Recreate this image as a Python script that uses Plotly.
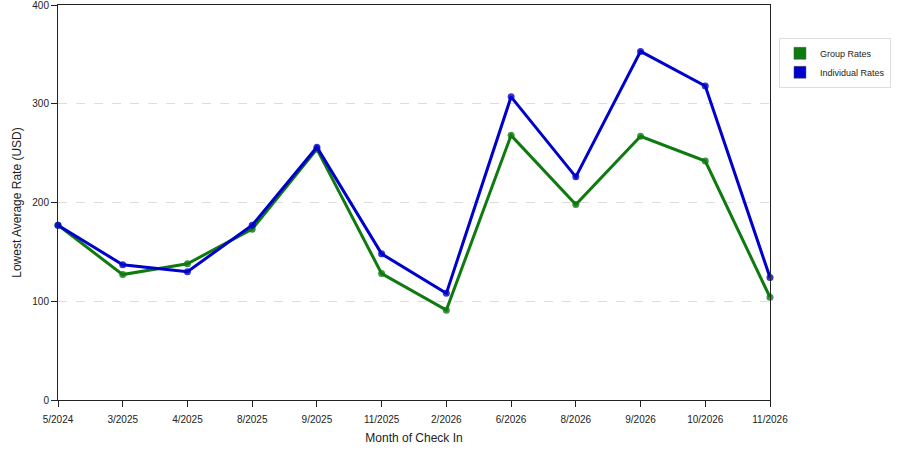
import plotly.graph_objects as go

# months of check in and the lowest average rates
months = ['5/2024', '3/2025', '4/2025', '8/2025', '9/2025', '11/2025',
          '2/2026', '6/2026', '8/2026', '9/2026', '10/2026', '11/2026']
group_rates = [177, 127, 138, 173, 254, 128, 91, 268, 198, 267, 242, 104]
individual_rates = [177, 137, 130, 177, 256, 148, 108, 307, 226, 353, 318, 124]

series = [
    ('Group Rates', group_rates, '#0f7a0f'),
    ('Individual Rates', individual_rates, '#0000cc'),
]

fig = go.Figure()
for name, values, color in series:
    fig.add_trace(go.Scatter(
        x=months, y=values, name=name, mode='lines+markers',
        line=dict(color=color, width=3),
        marker=dict(color=color, size=7, opacity=0.8),
        showlegend=False, cliponaxis=False,
    ))
    # legend entry drawn as a square swatch
    fig.add_trace(go.Scatter(
        x=[None], y=[None], name=name, mode='markers',
        marker=dict(color=color, symbol='square', size=12,
                    line=dict(color='#555555', width=0.5)),
    ))

fig.update_layout(
    width=900, height=450,
    margin=dict(l=58, r=130, t=5, b=50),
    paper_bgcolor='white', plot_bgcolor='white',
    font=dict(family='Liberation Sans, Arial', size=10, color='#222222'),
    legend=dict(x=1.0126, y=0.917, xanchor='left', yanchor='top',
                bordercolor='#dddddd', borderwidth=1, bgcolor='white',
                font=dict(size=9), itemwidth=30, tracegroupgap=2),
    xaxis=dict(
        type='category', range=[0, len(months) - 1], automargin=False,
        title=dict(text='Month of Check In', standoff=9),
        showgrid=False, showline=True, linecolor='#222222', linewidth=1,
        mirror=True, ticks='outside', ticklen=6, tickcolor='#222222',
        ticklabelstandoff=4, zeroline=False,
    ),
    yaxis=dict(
        range=[0, 400], tickvals=[0, 100, 200, 300, 400], automargin=False,
        title=dict(text='Lowest Average Rate (USD)', standoff=8),
        showgrid=True, gridcolor='#dddddd', griddash='dash',
        showline=True, linecolor='#222222', linewidth=1, mirror=True,
        ticks='outside', ticklen=6, tickcolor='#222222', zeroline=False,
        ticklabeloverflow='allow',
    ),
)

# drop the default page margin so the figure sits at the window corner
fig.write_html("out.html", config={'displayModeBar': False},
               post_script="document.body.style.margin='0';")
